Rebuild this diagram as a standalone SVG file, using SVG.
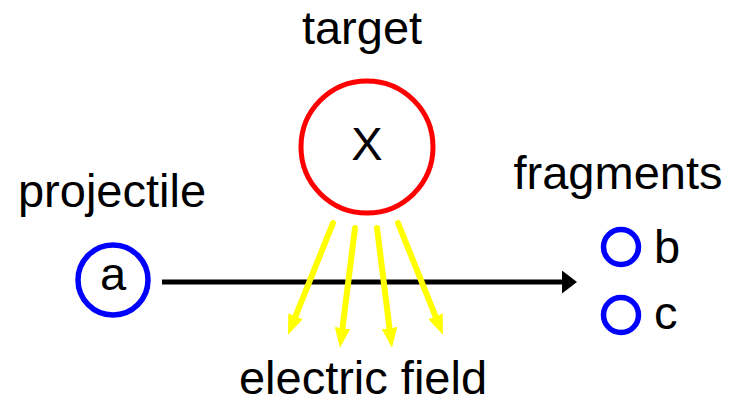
<svg xmlns="http://www.w3.org/2000/svg" width="729" height="414" viewBox="0 0 729 414">
<style>
text{font-family:"Liberation Sans",Arial,sans-serif;font-size:47px;fill:#000}
.blue{fill:none;stroke:#0000ff;stroke-width:5.5}
.red{fill:none;stroke:#ff0000;stroke-width:5}
.field{stroke:#ffff00;stroke-width:6;stroke-linecap:round;fill:none;marker-end:url(#ya)}
</style>
<defs>
<marker id="ya" viewBox="0 0 10 10" refX="2" refY="5" markerWidth="3.33" markerHeight="2.6" orient="auto" markerUnits="strokeWidth" preserveAspectRatio="none">
<path d="M0,0 L10,5 L0,10 Z" fill="#ffff00"/>
</marker>
<marker id="ba" viewBox="0 0 10 10" refX="2" refY="5" markerWidth="3" markerHeight="4.6" orient="auto" markerUnits="strokeWidth" preserveAspectRatio="none">
<path d="M0,0 L10,5 L0,10 Z" fill="#000"/>
</marker>
</defs>
<g id="labels">
<text x="362" y="44" text-anchor="middle">target</text>
<text x="112" y="207" text-anchor="middle">projectile</text>
<text x="618" y="189" text-anchor="middle">fragments</text>
<text x="363" y="394" text-anchor="middle">electric field</text>
</g>
<g id="connectors">
<line x1="162" y1="282" x2="565" y2="282" stroke="#000" stroke-width="5" marker-end="url(#ba)"/>
<line class="field" x1="333" y1="223" x2="294" y2="320"/>
<line class="field" x1="355" y1="228" x2="342" y2="332"/>
<line class="field" x1="377" y1="228" x2="390" y2="332"/>
<line class="field" x1="398" y1="223" x2="437" y2="320"/>
</g>
<g id="target">
<circle class="red" cx="367" cy="147" r="66"/>
<text x="367" y="160" text-anchor="middle">X</text>
</g>
<g id="projectile">
<circle class="blue" cx="113" cy="280" r="35"/>
<text x="113" y="290" text-anchor="middle">a</text>
</g>
<g id="fragment-b">
<circle class="blue" cx="621" cy="247" r="17.5"/>
<text x="654" y="263">b</text>
</g>
<g id="fragment-c">
<circle class="blue" cx="621" cy="315" r="17.5"/>
<text x="654" y="329">c</text>
</g>
</svg>
